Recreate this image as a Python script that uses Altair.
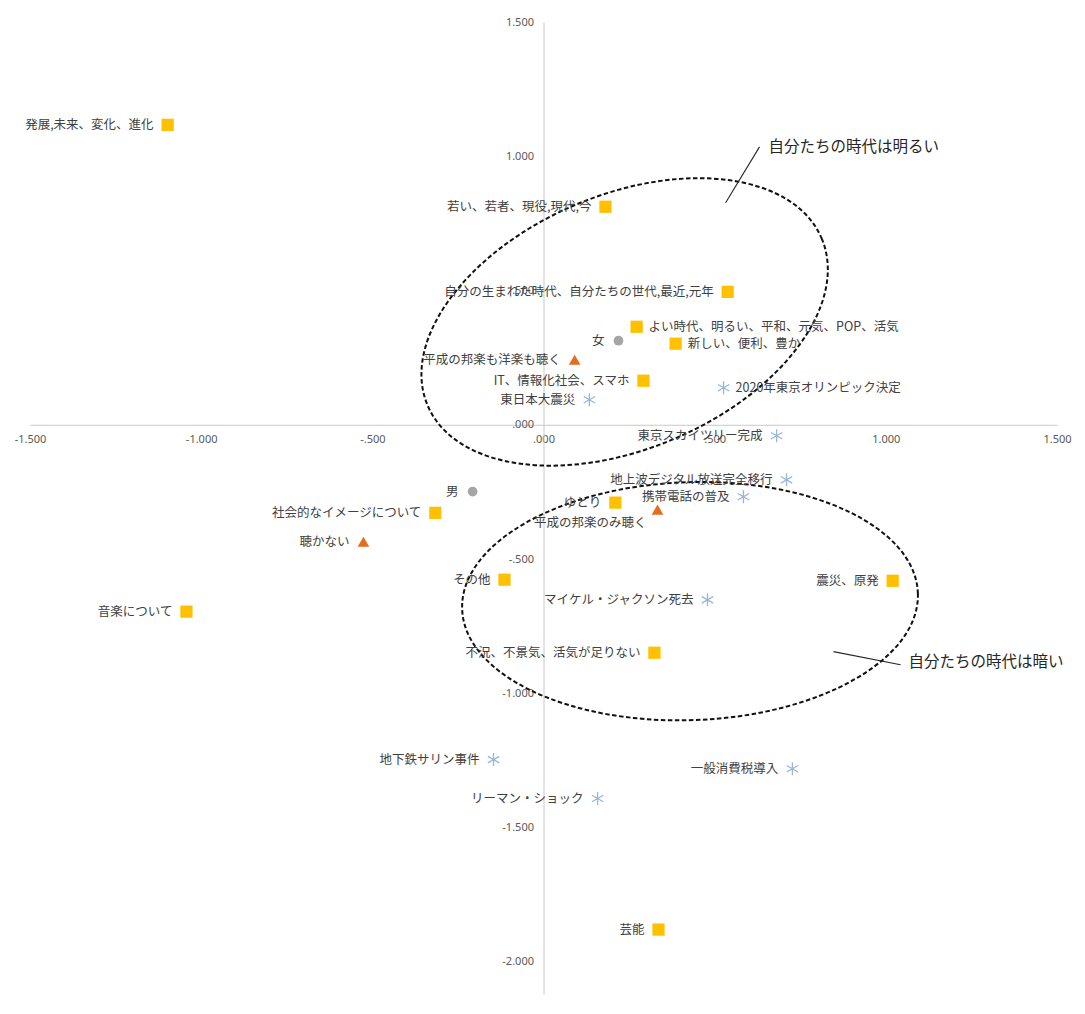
import altair as alt
import pandas as pd

# ---------------- data ----------------
NAMES = [
    "発展,未来、変化、進化",
    "若い、若者、現役,現代,今",
    "自分の生まれた時代、自分たちの世代,最近,元年",
    "よい時代、明るい、平和、元気、POP、活気",
    "新しい、便利、豊か",
    "IT、情報化社会、スマホ",
    "ゆとり",
    "社会的なイメージについて",
    "その他",
    "震災、原発",
    "不況、不景気、活気が足りない",
    "音楽について",
    "芸能",
    "女",
    "男",
    "平成の邦楽も洋楽も聴く",
    "平成の邦楽のみ聴く",
    "聴かない",
    "2020年東京オリンピック決定",
    "東日本大震災",
    "東京スカイツリー完成",
    "地上波デジタル放送完全移行",
    "携帯電話の普及",
    "マイケル・ジャクソン死去",
    "地下鉄サリン事件",
    "一般消費税導入",
    "リーマン・ショック",
]
X = [-1.098, 0.181, 0.538, 0.272, 0.386, 0.292, 0.210, -0.316, -0.114, 1.020,
     0.324, -1.043, 0.336, 0.219, -0.207, 0.091, 0.333, -0.526, 0.526, 0.134,
     0.681, 0.710, 0.584, 0.479, -0.146, 0.727, 0.158]
Y = [1.117, 0.812, 0.495, 0.365, 0.302, 0.164, -0.290, -0.328, -0.577, -0.581,
     -0.849, -0.696, -1.880, 0.313, -0.249, 0.242, -0.316, -0.436, 0.138, 0.093,
     -0.041, -0.205, -0.268, -0.652, -1.247, -1.281, -1.392]
KIND = ["sq"] * 13 + ["cir"] * 2 + ["tri"] * 3 + ["ast"] * 9

RIGHT_LABELS = ["よい時代、明るい、平和、元気、POP、活気", "新しい、便利、豊か", "2020年東京オリンピック決定"]
BELOW_LABELS = ["平成の邦楽のみ聴く"]

X_TICKS = [-1.5, -1.0, -0.5, 0.0, 0.5, 1.0, 1.5]
Y_TICKS = [-2.0, -1.5, -1.0, -0.5, 0.0, 0.5, 1.0, 1.5]
X_DOMAIN = [-1.5, 1.5]
Y_DOMAIN = [-2.12, 1.5]

# dashed ellipses (centre in data units)
ELL_CX = [0.237, 0.428]
ELL_CY = [0.383, -0.657]
ELL_A_PX = [214, 228]
ELL_B_PX = [127, 119]
ELL_TILT = [23, 2]

NOTE_TEXT = ["自分たちの時代は明るい", "自分たちの時代は暗い"]
NOTE_X = [0.657, 1.066]
NOTE_Y = [1.035, -0.882]
LEADER_X = [0.631, 0.847]
LEADER_Y = [1.035, -0.845]
LEADER_X2 = [0.532, 1.043]
LEADER_Y2 = [0.827, -0.894]

# ---------------- layout ----------------
W = 1027
H = 972
FONT = "Noto Sans CJK JP"
TXT = "#404040"

x0px = W * (0 - X_DOMAIN[0]) / (X_DOMAIN[1] - X_DOMAIN[0])
y0px = H * (Y_DOMAIN[1] - 0) / (Y_DOMAIN[1] - Y_DOMAIN[0])

LBL = ("abs(datum.value) < 1 ? (datum.value < 0 ? '-' : '') + substring(format(abs(datum.value), '.3f'), 1)"
       " : replace(format(datum.value, '.3f'), '\u2212', '-')")

xscale = alt.Scale(domain=X_DOMAIN, nice=False, zero=False)
yscale = alt.Scale(domain=Y_DOMAIN, nice=False, zero=False)

xaxis = alt.Axis(values=X_TICKS, labelExpr=LBL, title=None, grid=False, ticks=False,
                 offset=-(H - y0px), domainColor="#C8C8C8", domainWidth=1,
                 labelColor="#595959", labelFontSize=11, labelFont="Noto Sans",
                 labelPadding=9, labelFlush=False, labelOverlap=False, labelBound=False)
yaxis = alt.Axis(values=Y_TICKS, labelExpr=LBL, title=None, grid=False, ticks=False,
                 offset=-x0px, domainColor="#C8C8C8", domainWidth=1,
                 labelColor="#595959", labelFontSize=11, labelFont="Noto Sans",
                 labelPadding=10, labelFlush=False, labelOverlap=False, labelBound=False)

ex = alt.X("x:Q", scale=xscale, axis=xaxis)
ey = alt.Y("y:Q", scale=yscale, axis=yaxis)

df = pd.DataFrame({"name": NAMES, "x": X, "y": Y, "kind": KIND})

ASTERISK = "M0,-1L0,1M-0.87,-0.5L0.87,0.5M-0.87,0.5L0.87,-0.5"


def ellipse_path(r):
    k = 0.5523
    return (f"M1,0C1,{k*r:.4f},{k:.4f},{r:.4f},0,{r:.4f}"
            f"C{-k:.4f},{r:.4f},-1,{k*r:.4f},-1,0"
            f"C-1,{-k*r:.4f},{-k:.4f},{-r:.4f},0,{-r:.4f}"
            f"C{k:.4f},{-r:.4f},1,{-k*r:.4f},1,0Z")


base = alt.Chart(df)

sq = base.transform_filter(alt.datum.kind == "sq").mark_point(
    shape="square", filled=True, size=150, color="#FFC000", opacity=1).encode(x=ex, y=ey)
cir = base.transform_filter(alt.datum.kind == "cir").mark_point(
    shape="circle", filled=True, size=95, color="#A5A5A5", opacity=1).encode(x=ex, y=ey)
tri = base.transform_filter(alt.datum.kind == "tri").mark_point(
    shape="triangle-up", filled=True, size=135, color="#E46C1E", opacity=1).encode(x=ex, y=ey)
ast = base.transform_filter(alt.datum.kind == "ast").mark_point(
    shape=ASTERISK, filled=False, size=170, color="#97B6D8", strokeWidth=1.3, opacity=1).encode(x=ex, y=ey)

special = RIGHT_LABELS + BELOW_LABELS
lab_left = base.transform_filter(
    ~alt.FieldOneOfPredicate(field="name", oneOf=special)
).mark_text(align="right", baseline="middle", dx=-14, font=FONT, fontSize=12.5, color=TXT).encode(
    x=ex, y=ey, text="name:N")
lab_right = base.transform_filter(
    alt.FieldOneOfPredicate(field="name", oneOf=RIGHT_LABELS)
).mark_text(align="left", baseline="middle", dx=12, font=FONT, fontSize=12.5, color=TXT).encode(
    x=ex, y=ey, text="name:N")
lab_below = base.transform_filter(
    alt.FieldOneOfPredicate(field="name", oneOf=BELOW_LABELS)
).mark_text(align="right", baseline="middle", dx=-11, dy=13, font=FONT, fontSize=12.5, color=TXT).encode(
    x=ex, y=ey, text="name:N")

ellipses = []
for cx, cy, a, b, t in zip(ELL_CX, ELL_CY, ELL_A_PX, ELL_B_PX, ELL_TILT):
    e = alt.Chart(pd.DataFrame({"x": [cx], "y": [cy]})).mark_point(
        shape=ellipse_path(b / a), size=4 * a * a, angle=(360 - t) % 360,
        filled=False, color="#111111", strokeWidth=2, strokeDash=[4.5, 2.5], opacity=1
    ).encode(x=ex, y=ey)
    ellipses.append(e)

notes_df = pd.DataFrame({"x": NOTE_X, "y": NOTE_Y, "t": NOTE_TEXT})
notes = alt.Chart(notes_df).mark_text(align="left", baseline="middle", font=FONT, fontSize=15.5,
                                      color="#262626").encode(x=ex, y=ey, text="t:N")

lead_df = pd.DataFrame({"x": LEADER_X, "y": LEADER_Y, "x2": LEADER_X2, "y2": LEADER_Y2})
leaders = alt.Chart(lead_df).mark_rule(color="#262626", strokeWidth=1.1).encode(
    x=ex, y=ey, x2="x2:Q", y2="y2:Q")

chart = alt.layer(
    *ellipses, leaders, sq, cir, tri, ast, lab_left, lab_right, lab_below, notes
).properties(
    width=W, height=H,
    autosize=alt.AutoSizeParams(type="none"),
    padding={"left": 22, "top": 14, "right": 20, "bottom": 2},
    background="white",
).configure_view(strokeWidth=0)

chart.save("out.html", embed_options={"renderer": "svg", "actions": False})
